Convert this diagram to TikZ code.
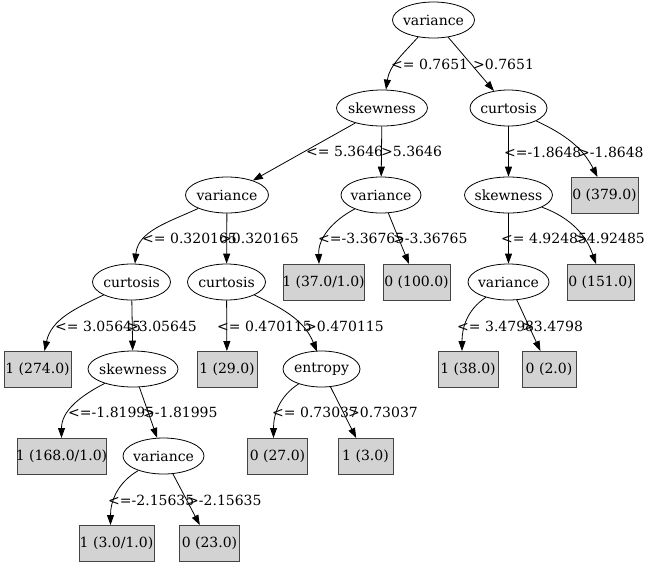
\documentclass[tikz,border=0pt]{standalone}
\usepackage{fontspec}
\setmainfont{DejaVu Serif}
\usetikzlibrary{arrows.meta,shapes.geometric}
\definecolor{leaffill}{HTML}{D3D3D3}
\definecolor{leafline}{HTML}{444444}
\begin{document}
\begin{tikzpicture}[x=1pt,y=1pt,
  font=\fontsize{14}{16}\selectfont,
  split/.style={ellipse,draw=black,line width=0.8pt,inner xsep=-10pt,inner ysep=0pt,minimum height=36pt},
  leaf/.style={rectangle,draw=leafline,fill=leaffill,line width=1pt,inner xsep=-6pt,inner ysep=0pt,minimum height=36pt},
  cond/.style={anchor=west,inner sep=0pt},
  edge/.style={draw=black,line width=0.8pt,-{Triangle[length=10pt,width=7pt]}}]
\useasboundingbox (0,0) rectangle (650,-566);

% decision nodes
\node[split,minimum width=82pt] (root) at (433.5,-20) {variance};
\node[split,minimum width=91pt] (skA) at (382,-108) {skewness};
\node[split,minimum width=77pt] (cuA) at (508.5,-108) {curtosis};
\node[split,minimum width=83pt] (vaB) at (227,-195) {variance};
\node[split,minimum width=80pt] (vaC) at (381,-195) {variance};
\node[split,minimum width=88pt] (skB) at (508.5,-195) {skewness};
\node[split,minimum width=78pt] (cuB) at (131.5,-282) {curtosis};
\node[split,minimum width=78pt] (cuC) at (226.5,-282) {curtosis};
\node[split,minimum width=81pt] (vaD) at (508.5,-282) {variance};
\node[split,minimum width=90pt] (skC) at (133,-369) {skewness};
\node[split,minimum width=77pt] (enA) at (321.5,-369) {entropy};
\node[split,minimum width=81pt] (vaE) at (163.5,-456) {variance};

% leaves
\node[leaf,minimum width=67pt] (lf379) at (604.5,-195.5) {0 (379.0)};
\node[leaf,minimum width=81pt] (lf37) at (323.5,-282.5) {1 (37.0/1.0)};
\node[leaf,minimum width=67pt] (lf100) at (416.5,-282.5) {0 (100.0)};
\node[leaf,minimum width=67pt] (lf151) at (600.5,-282.5) {0 (151.0)};
\node[leaf,minimum width=67pt] (lf274) at (37.5,-369.5) {1 (274.0)};
\node[leaf,minimum width=60pt] (lf29) at (227,-369.5) {1 (29.0)};
\node[leaf,minimum width=60pt] (lf38) at (468,-369.5) {1 (38.0)};
\node[leaf,minimum width=54pt] (lf2) at (549,-369.5) {0 (2.0)};
\node[leaf,minimum width=89pt] (lf168) at (61.5,-456.5) {1 (168.0/1.0)};
\node[leaf,minimum width=60pt] (lf27) at (277.5,-456.5) {0 (27.0)};
\node[leaf,minimum width=55pt] (lf3) at (365.5,-456.5) {1 (3.0)};
\node[leaf,minimum width=75pt] (lf31) at (116.5,-543.5) {1 (3.0/1.0)};
\node[leaf,minimum width=60pt] (lf23) at (209.5,-543.5) {0 (23.0)};

% branches
\draw[edge] (root) to[out=228,in=82] ([xshift=4pt]skA.north);
\draw[edge] (root) -- (cuA);
\draw[edge] (skA) -- (vaB);
\draw[edge] (skA) -- (vaC);
\draw[edge] (cuA) -- (skB);
\draw[edge] (cuA) to[out=335,in=117] ([xshift=-7pt]lf379.north);
\draw[edge] (vaB) to[out=205,in=85] ([xshift=3.5pt]cuB.north);
\draw[edge] (vaB) -- (cuC);
\draw[edge] (vaC) to[out=208,in=92] ([xshift=-4.5pt]lf37.north);
\draw[edge] (vaC) -- (lf100);
\draw[edge] (skB) -- (vaD);
\draw[edge] (skB) to[out=340,in=109] ([xshift=-4.5pt]lf151.north);
\draw[edge] (cuB) to[out=205,in=78] ([xshift=7pt]lf274.north);
\draw[edge] (cuB) -- (skC);
\draw[edge] (cuC) -- (lf29);
\draw[edge] (cuC) to[out=335,in=112] ([xshift=-4.5pt,yshift=-1pt]enA.north);
\draw[edge] (vaD) to[out=214,in=90] ([xshift=-6pt]lf38.north);
\draw[edge] (vaD) -- (lf2);
\draw[edge] (skC) to[out=207,in=90] (lf168.north);
\draw[edge] (skC) -- (vaE);
\draw[edge] (enA) to[out=213,in=90] ([xshift=-4pt]lf27.north);
\draw[edge] (enA) -- (lf3);
\draw[edge] (vaE) to[out=210,in=90] ([xshift=-6pt]lf31.north);
\draw[edge] (vaE) -- (lf23);

% split conditions
\node[cond] (c1) at (391,-64) {<= 0.7651};
\node[cond] (c2) at (473,-64) {>0.7651};
\node[cond] (c3) at (306,-151) {<= 5.3646};
\node[cond] (c4) at (381,-151) {>5.3646};
\node[cond] (c5) at (504,-152) {<=-1.8648};
\node[cond] (c6) at (578,-152) {>-1.8648};
\node[cond] (c7) at (142,-238) {<= 0.320165};
\node[cond] (c8) at (220,-238) {>0.320165};
\node[cond] (c9) at (318,-238) {<=-3.36765};
\node[cond] (c10) at (393,-238) {>-3.36765};
\node[cond] (c11) at (501,-238) {<= 4.92485};
\node[cond] (c12) at (575,-238) {>4.92485};
\node[cond] (c13) at (55,-326) {<= 3.05645};
\node[cond] (c14) at (127,-326) {>3.05645};
\node[cond] (c15) at (217,-326) {<= 0.470115};
\node[cond] (c16) at (305,-326) {>0.470115};
\node[cond] (c17) at (457,-326) {<= 3.4798};
\node[cond] (c18) at (522,-326) {>3.4798};
\node[cond] (c19) at (68,-412) {<=-1.81995};
\node[cond] (c20) at (143,-412) {>-1.81995};
\node[cond] (c21) at (272,-412) {<= 0.73037};
\node[cond] (c22) at (348,-412) {>0.73037};
\node[cond] (c23) at (108,-500) {<=-2.15635};
\node[cond] (c24) at (187,-500) {>-2.15635};
\end{tikzpicture}
\end{document}
